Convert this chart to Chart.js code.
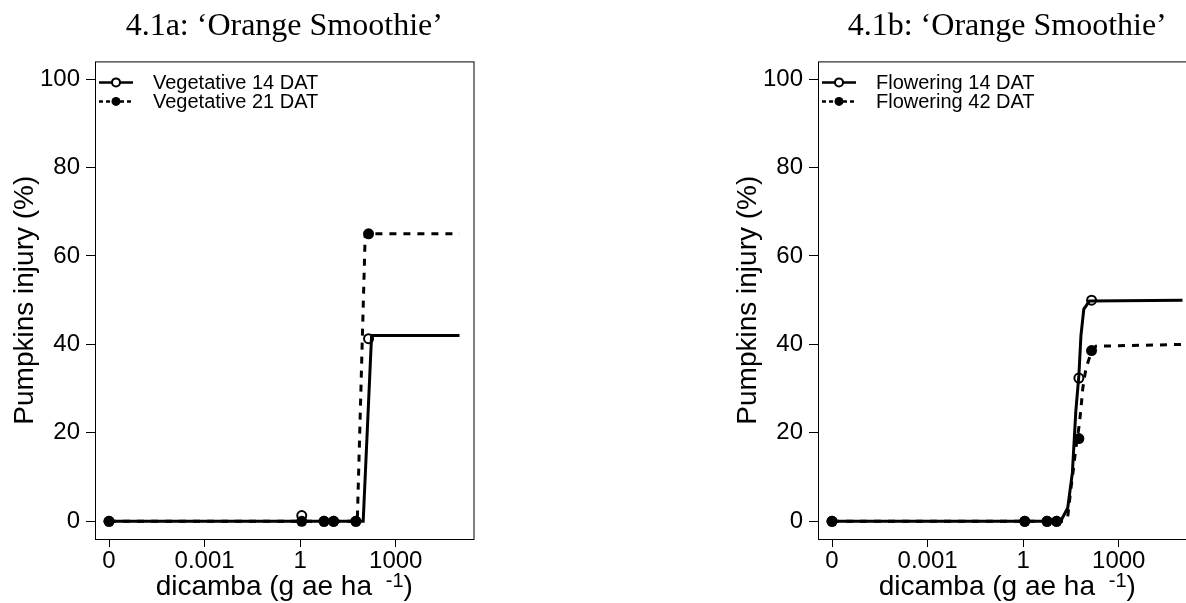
<!DOCTYPE html>
<html>
<head>
<meta charset="utf-8">
<script src="https://cdn.jsdelivr.net/npm/chart.js@4.4.0/dist/chart.umd.min.js"></script>
<style>
  html, body { margin: 0; padding: 0; background: #fff; overflow: hidden; width: 1186px; height: 603px; }
  .panel { position: absolute; top: 0; width: 480px; height: 603px; }
  #panelA { left: 0; }
  #panelB { left: 723px; }
</style>
</head>
<body>
<div class="panel" id="panelA"><canvas id="chartA"></canvas></div>
<div class="panel" id="panelB"><canvas id="chartB"></canvas></div>
<script>
// ----------------------
// data
// ----------------------
const doses = [0, 1.12, 5.6, 11.2, 56, 140];   // g ae/ha, 0 is drawn at 1e-6
const zeroDose = 1e-6;
const xTicks = [1e-6, 1e-3, 1, 1000];
const xTickLabels = ['0', '0.001', '1', '1000'];
const yTicks = [0, 20, 40, 60, 80, 100];

// 4.1a vegetative
const veg14 = [0, 1.3, 0, 0, 0, 41.3];
const veg21 = [0, 0, 0, 0, 0, 65];
const veg14FitDose = [1e-6, 95, 174, 1e5];
const veg14Fit = [0, 0, 42, 42];
const veg21FitDose = [1e-6, 62, 110, 1e5];
const veg21Fit = [0, 0, 65, 65];

// 4.1b flowering
const flw14 = [0, 0, 0, 0, 32.4, 50];
const flw42 = [0, 0, 0, 0, 18.7, 38.6];
const flw14FitDose = [1e-6, 15, 25, 35, 45, 56, 65, 80, 120, 1e5];
const flw14Fit = [0, 0, 3, 11, 25, 33, 42, 48, 49.8, 50];
const flw42FitDose = [1e-6, 18, 25, 31, 38, 44, 58, 66, 74, 93, 140, 190, 1e5];
const flw42Fit = [0, 0, 1, 7, 12, 16, 22, 26, 30, 34.5, 38.5, 39.6, 40];

const yTitle = 'Pumpkins injury (%)';
const xTitleMain = 'dicamba (g ae ha';
const xTitleSup = '-1';

const sans = '"Liberation Sans", Arial, sans-serif';
Chart.defaults.font.family = sans;
Chart.defaults.color = '#000';

// ----------------------
// plugins
// ----------------------
// R style box round the plot
const frame = {
  id: 'frame',
  afterDraw(chart) {
    const { ctx, chartArea: a } = chart;
    ctx.save();
    ctx.strokeStyle = '#000';
    ctx.lineWidth = 1;
    ctx.strokeRect(a.left + 0.5, a.top + 0.5, a.right - a.left, a.bottom - a.top);
    ctx.restore();
  }
};

// legend drawn inside the plot, line + marker + text
const insideLegend = {
  id: 'insideLegend',
  afterDatasetsDraw(chart) {
    const { ctx, chartArea: a } = chart;
    const items = chart.data.datasets.filter(d => d.legendText);
    items.forEach((d, i) => {
      const y = a.top + 21 + i * 19;
      const x0 = a.left + 4, x1 = a.left + 38, xm = a.left + 21;
      ctx.save();
      ctx.strokeStyle = '#000';
      ctx.lineWidth = 2.5;
      ctx.setLineDash(d.legendDash);
      ctx.beginPath();
      ctx.moveTo(x0, y);
      ctx.lineTo(x1, y);
      ctx.stroke();
      ctx.setLineDash([]);
      ctx.beginPath();
      ctx.arc(xm, y, d.legendFill ? 4.5 : 4, 0, Math.PI * 2);
      if (d.legendFill) {
        ctx.fillStyle = '#000';
        ctx.fill();
      } else {
        ctx.fillStyle = '#fff';
        ctx.fill();
        ctx.lineWidth = 2;
        ctx.stroke();
      }
      ctx.fillStyle = '#000';
      ctx.font = '20px ' + sans;
      ctx.textBaseline = 'middle';
      ctx.fillText(d.legendText, a.left + 58, y + 1);
      ctx.restore();
    });
  }
};

// x axis title with superscript -1
const doseTitle = {
  id: 'doseTitle',
  afterDraw(chart) {
    const { ctx, chartArea: a } = chart;
    const mainFont = '28px ' + sans;
    const supFont = '20px ' + sans;
    const gap = 6;
    ctx.save();
    ctx.fillStyle = '#000';
    ctx.textBaseline = 'alphabetic';
    ctx.font = mainFont;
    const wMain = ctx.measureText(xTitleMain + ' ').width + gap;
    const wClose = ctx.measureText(')').width;
    ctx.font = supFont;
    const wSup = ctx.measureText(xTitleSup).width;
    const y = a.bottom + 56;
    let x = (a.left + a.right) / 2 - (wMain + wSup + wClose) / 2;
    ctx.font = mainFont;
    ctx.fillText(xTitleMain, x, y);
    x += wMain;
    ctx.font = supFont;
    ctx.fillText(xTitleSup, x, y - 8);
    x += wSup;
    ctx.font = mainFont;
    ctx.fillText(')', x, y);
    ctx.restore();
  }
};

// ----------------------
// chart builder
// ----------------------
function toPoints(xs, ys) {
  return xs.map((x, i) => ({ x: x === 0 ? zeroDose : x, y: ys[i] }));
}

function createChart(canvasId, title, openPts, openLabel, fillPts, fillLabel, solidFit, dashFit) {
  const ctx = document.getElementById(canvasId).getContext('2d');
  return new Chart(ctx, {
    type: 'scatter',
    data: {
      datasets: [
        {
          data: toPoints(doses, openPts),
          pointRadius: 4.5, pointBorderWidth: 2,
          pointBackgroundColor: 'rgba(0,0,0,0)', pointBorderColor: '#000',
          showLine: false,
          legendText: openLabel, legendFill: false, legendDash: []
        },
        {
          data: toPoints(doses, fillPts),
          pointRadius: 5.5, pointBorderWidth: 0,
          pointBackgroundColor: '#000', pointBorderColor: '#000',
          showLine: false,
          legendText: fillLabel, legendFill: true, legendDash: [4, 3]
        },
        {
          data: toPoints(solidFit[0], solidFit[1]),
          showLine: true, pointRadius: 0, borderColor: '#000', borderWidth: 3,
          tension: 0, borderCapStyle: 'butt'
        },
        {
          data: toPoints(dashFit[0], dashFit[1]),
          showLine: true, pointRadius: 0, borderColor: '#000', borderWidth: 3,
          borderDash: [7, 7], tension: 0, borderCapStyle: 'butt'
        }
      ]
    },
    options: {
      responsive: true,
      maintainAspectRatio: false,
      animation: false,
      devicePixelRatio: 1,
      layout: { padding: { top: 0, right: 6, bottom: 0, left: 0 } },
      plugins: {
        legend: { display: false },
        tooltip: { enabled: false },
        title: {
          display: true,
          text: title,
          fullSize: false,
          color: '#000',
          font: { family: '"Liberation Serif", "Times New Roman", serif', size: 32, weight: 'normal' },
          padding: { top: 7, bottom: 16 }
        }
      },
      scales: {
        x: {
          type: 'logarithmic',
          min: Math.pow(10, -6.44),
          max: Math.pow(10, 5.44),
          afterBuildTicks: scale => { scale.ticks = xTicks.map(v => ({ value: v })); },
          afterFit: scale => { scale.height = 64; },
          border: { display: false },
          grid: { drawOnChartArea: false, drawTicks: true, tickLength: 8, color: '#000', lineWidth: 1 },
          ticks: {
            autoSkip: false, maxRotation: 0, padding: 0,
            font: { size: 24 }, color: '#000',
            callback: value => xTickLabels[xTicks.indexOf(value)]
          }
        },
        y: {
          type: 'linear',
          min: -4,
          max: 104,
          afterBuildTicks: scale => { scale.ticks = yTicks.map(v => ({ value: v })); },
          afterFit: scale => { scale.width = 95; },
          border: { display: false },
          grid: { drawOnChartArea: false, drawTicks: true, tickLength: 9, color: '#000', lineWidth: 1 },
          ticks: { padding: 6, font: { size: 24 }, color: '#000' },
          title: {
            display: true,
            text: yTitle,
            color: '#000',
            font: { size: 28 },
            padding: { top: 8, bottom: 0 }
          }
        }
      }
    },
    plugins: [frame, insideLegend, doseTitle]
  });
}

document.addEventListener('DOMContentLoaded', () => {
  createChart('chartA', '4.1a: \u2018Orange Smoothie\u2019',
    veg14, 'Vegetative 14 DAT', veg21, 'Vegetative 21 DAT',
    [veg14FitDose, veg14Fit], [veg21FitDose, veg21Fit]);

  createChart('chartB', '4.1b: \u2018Orange Smoothie\u2019',
    flw14, 'Flowering 14 DAT', flw42, 'Flowering 42 DAT',
    [flw14FitDose, flw14Fit], [flw42FitDose, flw42Fit]);
});
</script>
</body>
</html>
